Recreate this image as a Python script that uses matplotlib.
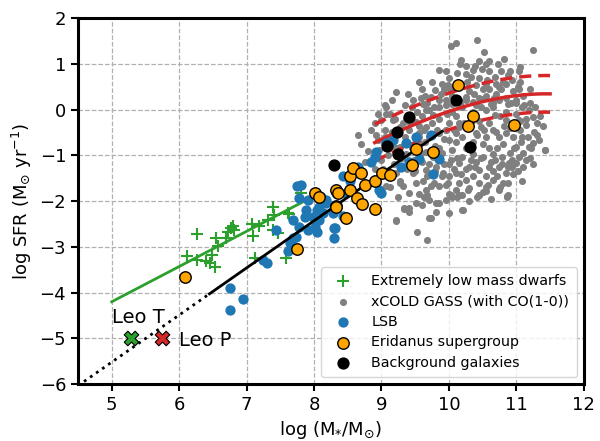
import numpy as np
import matplotlib
matplotlib.use("Agg")
import matplotlib.pyplot as plt

# --- data ------------------------------------------------------------------

# xCOLD GASS (with CO(1-0)) galaxies
xcg_mass = [
    10.41, 10.10, 10.03, 11.25, 10.52, 10.18, 10.16, 10.45, 10.60, 10.73,
    10.77, 11.05, 11.04, 9.85, 10.35, 10.49, 10.25, 10.33, 10.69, 10.87,
    10.94, 9.98, 9.93, 10.03, 10.40, 10.55, 10.74, 10.84, 11.04, 9.22,
    9.46, 9.61, 9.73, 9.80, 9.06, 9.12, 9.66, 9.76, 9.86, 9.96,
    10.05, 10.15, 10.25, 10.35, 10.47, 10.62, 10.74, 10.87, 10.99, 11.09,
    11.19, 11.24, 10.55, 10.69, 10.84, 11.04, 11.14, 11.26, 11.33, 11.43,
    11.24, 11.19, 11.09, 10.99, 10.84, 10.74, 10.65, 10.55, 10.47, 10.40,
    10.15, 10.10, 10.00, 9.96, 9.86, 10.05, 10.20, 10.35, 10.50, 10.65,
    10.79, 10.94, 11.04, 10.74, 10.60, 10.45, 10.30, 10.15, 10.03, 10.84,
    10.99, 10.89, 10.00, 10.10, 10.25, 10.45, 10.65, 9.96, 10.10, 10.30,
    10.55, 10.74, 10.87, 10.20, 10.45, 9.86, 9.91, 9.73, 9.66, 9.63,
    9.71, 9.81, 9.41, 9.51, 9.32, 9.41, 9.96, 10.05, 9.71, 9.22,
    9.34, 9.07, 9.07, 9.17, 9.27, 9.41, 9.56, 9.71, 9.66, 9.51,
    9.36, 9.00, 9.05, 9.12, 8.95, 8.97, 9.27, 9.36, 9.56, 9.66,
    9.76, 9.86, 9.56, 9.66, 9.81, 9.46, 9.32, 9.22, 9.27, 9.51,
    9.21, 9.52, 9.67, 9.34, 9.41, 9.60, 9.73, 9.81, 9.86, 10.00,
    10.03, 10.15, 10.21, 9.68, 10.20, 10.45, 10.55, 10.86, 11.43, 10.74,
    10.86, 9.35, 9.45, 9.55, 9.60, 9.65, 9.70, 9.75, 9.80, 9.85,
    9.90, 9.95, 10.00, 10.00, 10.05, 10.10, 10.10, 10.15, 10.20, 10.20,
    10.25, 10.30, 10.30, 10.35, 10.40, 10.40, 10.45, 10.50, 10.50, 10.55,
    10.60, 10.60, 10.65, 10.65, 10.70, 10.70, 10.75, 10.80, 10.80, 10.85,
    10.90, 10.90, 10.95, 10.95, 11.00, 11.05, 11.10, 11.10, 11.15, 11.20,
    11.30, 9.15, 9.20, 9.10, 9.00, 9.30, 9.50, 9.70, 9.90, 10.15,
    10.35, 10.55, 10.80, 10.95, 11.10, 11.20, 10.00, 10.30, 9.55, 9.25,
    9.10, 10.45, 10.60, 10.25, 10.70, 10.90, 11.05, 10.00, 9.90, 9.60,
    9.40, 9.05, 8.95, 8.85, 8.80, 8.70, 8.90,
    9.45, 9.52, 9.58, 9.63, 9.68, 9.72, 9.78, 9.83, 9.88, 9.92,
    9.97, 10.02, 10.07, 10.12, 10.17, 10.22, 10.27, 10.32, 10.37, 10.42,
    10.47, 10.52, 10.57, 10.62, 10.67, 10.72, 10.77, 10.82, 10.87, 10.92,
    10.97, 11.02, 11.07, 11.12, 11.17, 11.22, 11.27, 11.35, 9.42, 9.48,
    9.58, 9.62, 9.68, 9.78, 9.82, 9.92, 9.98, 10.08, 10.12, 10.18,
    10.28, 10.38, 10.42, 10.48, 10.58, 10.62, 10.68, 10.72, 10.78, 10.88,
    10.93, 11.02, 11.08, 11.15, 11.25, 9.18, 9.22, 9.28, 9.32, 9.38,
    9.12, 9.02, 8.92, 9.15, 9.35, 9.55, 9.75, 9.95, 10.12, 10.38,
    10.55, 10.82, 10.65, 10.85, 11.00, 10.35, 10.15, 9.95, 9.75, 9.55,
    10.25, 10.50, 10.75, 11.05, 11.30, 11.40, 11.20, 10.60, 10.45, 10.25,
    10.05, 9.85, 9.65, 8.90, 8.75, 8.65, 9.05, 9.15, 9.40, 9.60,
    9.80,
]
xcg_sfr = [
    1.52, 1.45, 1.38, 1.30, 1.25, 1.09, 1.00, 1.07, 1.06, 1.00,
    0.84, 0.93, 0.84, 0.87, 0.86, 0.89, 0.78, 0.71, 0.71, 0.75,
    0.64, 0.53, 0.46, 0.42, 0.53, 0.57, 0.49, 0.57, 0.46, 0.38,
    0.20, 0.13, 0.28, 0.42, 0.06, -0.09, -0.01, -0.12, 0.06, 0.20,
    0.13, 0.20, 0.28, 0.17, 0.24, 0.13, 0.20, 0.13, 0.20, 0.06,
    -0.01, -0.16, -0.01, -0.12, -0.23, -0.23, -0.34, -0.49, -0.67, -0.88,
    -0.74, -0.81, -0.59, -0.81, -0.52, -0.59, -0.45, -0.59, -0.38, -0.52,
    -0.38, -0.52, -0.67, -0.45, -0.52, -0.88, -1.03, -0.96, -1.03, -0.96,
    -1.03, -1.10, -1.03, -1.25, -1.25, -1.32, -1.25, -1.17, -1.10, -1.39,
    -1.17, -1.17, -1.46, -1.39, -1.54, -1.61, -1.54, -1.65, -1.75, -1.72,
    -1.79, -1.75, -1.86, -2.19, -1.86, -1.68, -1.39, -1.68, -1.75, -1.90,
    -1.97, -2.04, -2.15, -2.04, -1.68, -1.83, -1.97, -1.90, -2.37, -2.41,
    -2.17, -1.68, -0.09, -0.23, -0.38, -0.45, -0.52, -0.59, -0.38, -0.27,
    -0.20, -0.23, -0.45, -0.67, -0.67, -0.88, -0.81, -0.96, -0.74, -0.92,
    -1.03, -0.85, -1.10, -1.32, -1.25, -1.39, -1.25, -1.39, -1.57, -1.61,
    -2.43, -2.68, -2.85, -2.16, -2.24, -2.08, -2.37, -2.23, -2.04, -2.25,
    -1.87, -1.87, -2.19, -1.87, -1.87, -1.87, -1.70, -1.90, -0.88, -1.74,
    -1.89, -0.60, -0.85, -0.35, -0.15, -0.70, 0.00, -0.30, -0.80, -0.20,
    -0.95, 0.10, -0.30, -1.20, 0.30, -0.70, -0.15, 0.55, -0.60, 0.05,
    -0.85, 0.40, -0.40, -0.70, 0.10, -1.15, -0.25, 0.45, -0.75, 0.30,
    -0.30, -0.85, 0.05, -1.35, 0.35, -0.50, -0.15, 0.60, -0.75, 0.25,
    -0.40, -0.95, 0.40, -0.60, -0.10, -0.45, 0.30, -0.95, -0.20, 0.15,
    -0.30, -0.50, -0.20, -1.00, -1.10, -1.05, -1.35, -1.20, -1.45, -1.60,
    -1.45, -1.45, -1.60, -1.40, -1.25, -1.05, -1.85, -2.00, -1.85, -1.90,
    -1.45, 0.70, 0.85, 0.95, 0.55, 0.85, 0.60, 0.70, 0.55, 0.45,
    0.35, 0.10, -0.10, -0.45, -0.90, -0.75, -1.30,
    0.05, -0.05, 0.25, -0.45, 0.15, -0.90, 0.05, -0.45, 0.35, -0.65,
    -0.10, 0.45, -0.45, -1.05, 0.15, -0.30, 0.60, -1.10, 0.35, -0.55,
    0.05, -0.45, 0.65, -1.15, 0.25, -0.85, 0.45, -0.35, -1.25, 0.15,
    -0.85, 0.50, -0.70, 0.10, -0.60, -0.85, 0.05, -0.15, -0.30, -1.10,
    -0.95, -1.55, -1.45, -1.60, -1.05, -1.20, -1.60, -1.30, -1.90, -1.40,
    -1.75, -1.25, -1.90, -1.05, -1.65, -1.95, -1.10, -1.45, -1.20, -1.60,
    -1.25, -1.35, -1.55, -1.10, -1.20, -1.20, -0.85, -1.60, -0.30, -1.30,
    -1.70, -1.30, -0.55, 0.20, 0.10, 0.60, 0.60, 0.85, 0.80, 0.95,
    1.00, 1.10, 0.15, -0.05, 0.15, -0.05, -0.30, -0.45, -0.55, -0.60,
    -1.30, -1.80, -1.70, -0.25, -0.55, -0.35, 0.45, 0.45, 0.25, 0.20,
    -0.05, 0.20, 0.30, -0.30, -1.15, -0.55, -0.60, -0.80, -0.75, -1.15,
    -1.35,
]

# Extremely low mass dwarfs
dwarf_mass = [6.11, 6.26, 6.26, 6.40, 6.45, 6.53, 6.54, 6.58, 6.48, 6.72,
              6.77, 6.82, 6.80, 6.70, 7.08, 7.09, 7.12, 7.19, 7.32, 7.39,
              7.41, 7.39, 7.46, 7.61, 7.63, 7.59, 7.81]
dwarf_sfr = [-3.21, -3.28, -2.72, -3.32, -3.36, -3.43, -2.81, -2.99, -3.17, -2.67,
             -2.59, -2.63, -2.55, -2.81, -2.50, -2.76, -3.25, -2.54, -2.41, -2.12,
             -2.30, -2.63, -2.70, -2.26, -2.28, -3.25, -1.83]

# LSB galaxies
lsb_mass = [6.76, 6.94, 6.76, 7.43, 7.24, 7.30, 7.64, 7.61, 7.69, 7.75,
            7.69, 7.78, 7.86, 7.88, 7.91, 8.01, 8.05, 8.08, 8.13, 8.18,
            8.05, 7.98, 8.30, 8.30, 8.33, 7.73, 7.78, 7.81, 7.91, 8.11,
            8.18, 8.28, 8.31, 8.43, 8.53, 8.48, 8.65, 8.85, 8.90, 8.92,
            9.07, 9.17, 9.36, 9.51, 9.73, 9.29, 9.41, 9.56, 9.77, 9.86,
            8.97, 9.00, 8.75, 8.08, 8.43]
lsb_sfr = [-3.89, -4.14, -4.39, -2.64, -3.28, -3.35, -2.92, -3.10, -2.81, -1.67,
           -2.41, -2.56, -2.34, -2.19, -2.63, -2.56, -2.67, -2.41, -2.26, -1.97,
           -2.19, -2.34, -2.59, -2.81, -1.83, -2.78, -1.94, -1.65, -1.97, -1.90,
           -2.04, -2.26, -2.59, -1.46, -1.57, -1.83, -1.25, -1.14, -1.03, -0.92,
           -0.74, -0.67, -0.74, -0.59, -0.56, -1.25, -1.14, -1.07, -1.41, -1.07,
           -1.75, -1.83, -1.68, -2.12, -2.33]

# Eridanus supergroup
eri_mass = [6.09, 7.74, 8.01, 8.08, 8.32, 8.33, 8.36, 8.33, 8.48, 8.53,
            8.63, 8.71, 8.53, 8.58, 8.70, 8.75, 8.91, 8.91, 9.01, 9.12,
            9.45, 9.51, 9.76, 10.13, 10.35, 10.29, 10.97]
eri_sfr = [-3.66, -3.04, -1.83, -1.90, -2.10, -1.75, -1.83, -2.12, -2.37, -1.75,
           -1.93, -2.06, -1.46, -1.28, -1.39, -1.64, -2.17, -1.57, -1.39, -1.43,
           -1.21, -0.87, -0.92, 0.53, -0.14, -0.36, -0.34]

# Background galaxies
bg_mass = [8.30, 9.08, 9.23, 9.41, 10.10, 10.31, 9.24]
bg_sfr = [-1.22, -0.80, -0.50, -0.17, 0.22, -0.81, -0.96]

# Leo T and Leo P
leo_names = ["Leo T", "Leo P"]
leo_mass = [5.29, 5.75]
leo_sfr = [-5.0, -5.0]

# fit lines
dwarf_fit = (0.77, -8.05)          # slope, intercept
eri_fit = (1.03, -10.67)
ms_coeffs = (-2.332, 0.4156, -0.01828)   # xCOLD GASS main sequence
ms_scatter = 0.4


def main_sequence(m):
    a, b, c = ms_coeffs
    return a * m + b * m**2 + c * m**3


fig = plt.figure(figsize=(6, 4.41), dpi=100)
ax = fig.add_axes([0.13, 0.129, 0.843, 0.83])

ax.grid(True, ls="--", color="#b0b0b0", lw=0.9, zorder=0)
ax.set_axisbelow(True)

ax.scatter(xcg_mass, xcg_sfr, s=26, color="grey", lw=0,
           label="xCOLD GASS (with CO(1-0))", zorder=2)

m_ms = np.linspace(8.9, 11.5, 100)
ax.plot(m_ms, main_sequence(m_ms), color="tab:red", lw=2.5, zorder=3)
ax.plot(m_ms, main_sequence(m_ms) + ms_scatter, color="tab:red", lw=2.5,
        ls="--", dashes=(3.5, 2), zorder=3)
ax.plot(m_ms, main_sequence(m_ms) - ms_scatter, color="tab:red", lw=2.5,
        ls="--", dashes=(3.5, 2), zorder=3)

ax.scatter(dwarf_mass, dwarf_sfr, marker="+", s=80, color="tab:green",
           lw=1.5, label="Extremely low mass dwarfs", zorder=4)
m_d = np.array([5.0, 7.9])
ax.plot(m_d, dwarf_fit[0] * m_d + dwarf_fit[1], color="tab:green", lw=2,
        zorder=4)

ax.scatter(lsb_mass, lsb_sfr, s=55, color="tab:blue", lw=0, label="LSB",
           zorder=4)

m_e = np.array([6.45, 9.9])
ax.plot(m_e, eri_fit[0] * m_e + eri_fit[1], color="black", lw=2, zorder=5)
m_e2 = np.array([4.5, 6.45])
ax.plot(m_e2, eri_fit[0] * m_e2 + eri_fit[1], color="black", lw=2, ls=":",
        zorder=5)

ax.scatter(eri_mass, eri_sfr, s=68, color="orange", edgecolor="black",
           lw=1, label="Eridanus supergroup", zorder=6)
ax.scatter(bg_mass, bg_sfr, s=78, color="black", lw=0,
           label="Background galaxies", zorder=6)

ax.scatter(leo_mass[0], leo_sfr[0], marker="X", s=110, color="tab:green",
           edgecolor="black", lw=0.8, zorder=7)
ax.scatter(leo_mass[1], leo_sfr[1], marker="X", s=110, color="tab:red",
           edgecolor="black", lw=0.8, zorder=7)
ax.text(leo_mass[0] - 0.28, leo_sfr[0] + 0.45, leo_names[0], fontsize=14,
        va="center", ha="left")
ax.text(leo_mass[1] + 0.25, leo_sfr[1] - 0.05, leo_names[1], fontsize=14,
        va="center", ha="left")

ax.set_xlim(4.5, 12)
ax.set_ylim(-6, 2)
ax.set_xticks(range(5, 13))
ax.set_yticks(range(-6, 3))
ax.tick_params(labelsize=13, width=1.5, length=5)
for sp in ax.spines.values():
    sp.set_linewidth(2.2)

ax.set_xlabel(r"log (M$_{*}$/M$_{\odot}$)", fontsize=13)
ax.set_ylabel(r"log SFR (M$_{\odot}$ yr$^{-1}$)", fontsize=13)

h, l = ax.get_legend_handles_labels()
order = [l.index(n) for n in ["Extremely low mass dwarfs",
                              "xCOLD GASS (with CO(1-0))", "LSB",
                              "Eridanus supergroup", "Background galaxies"]]
ax.legend([h[i] for i in order], [l[i] for i in order], loc="lower right",
          fontsize=10.3, handletextpad=1.0, borderpad=0.5, labelspacing=0.45)

fig.savefig("out.png", dpi=100)
